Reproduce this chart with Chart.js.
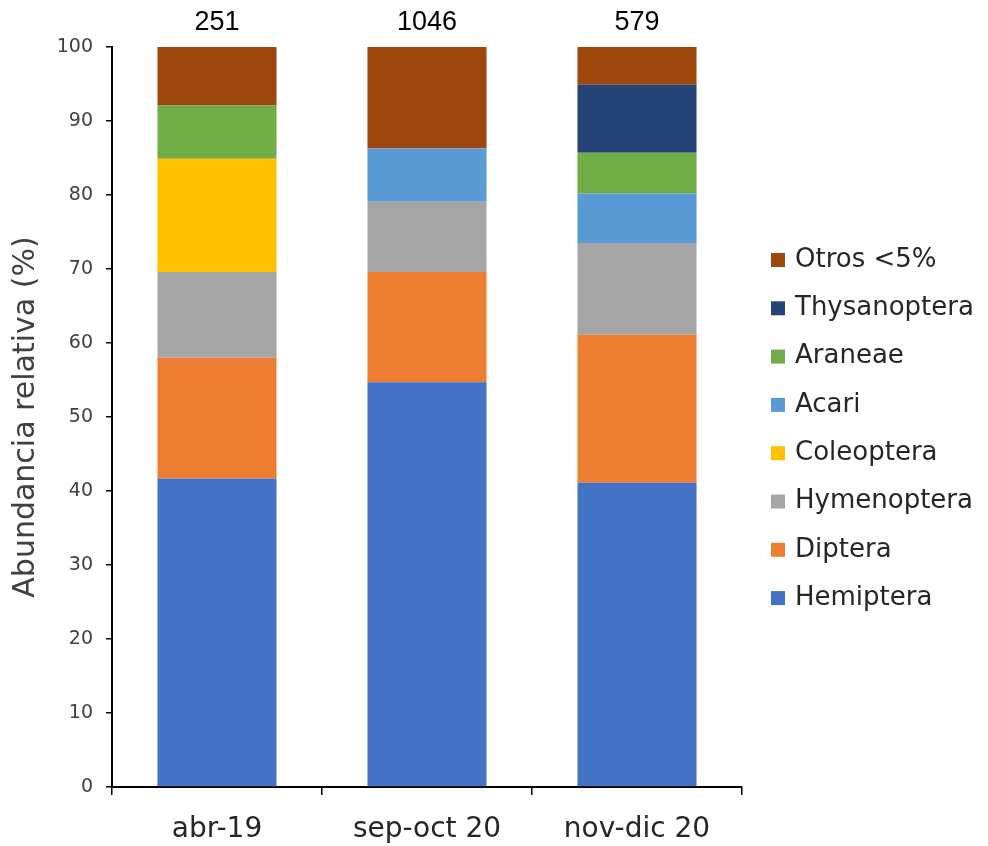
<!DOCTYPE html>
<html lang="es">
<head>
<meta charset="utf-8">
<title>Abundancia relativa por orden</title>
<script src="https://cdn.jsdelivr.net/npm/chart.js@4.4.1/dist/chart.umd.min.js"></script>
<style>
  html, body { margin: 0; padding: 0; background: #ffffff; }
  #wrap { position: relative; width: 988px; height: 846px; }
</style>
</head>
<body>
<div id="wrap"><canvas id="chart"></canvas></div>
<script>
// Sampling periods
const periods = ['abr-19', 'sep-oct 20', 'nov-dic 20'];
// Number of individuals per period
const totals = [251, 1046, 579];

// Relative abundance (%) of each order, stacked bottom to top
const hemiptera    = [41.7, 54.7, 41.1];
const diptera      = [16.3, 14.9, 20.0];
const hymenoptera  = [11.6,  9.5, 12.4];
const coleoptera   = [15.3,  0.0,  0.0];
const acari        = [ 0.0,  7.2,  6.7];
const araneae      = [ 7.2,  0.0,  5.5];
const thysanoptera = [ 0.0,  0.0,  9.2];
const otros        = [ 7.9, 13.7,  5.1];

const yTicks = { min: 0, max: 100, step: 10 };

const FONT = '"DejaVu Sans", "Liberation Sans", sans-serif';

const series = [
  { label: 'Hemiptera',    data: hemiptera,    color: '#4472C4' },
  { label: 'Diptera',      data: diptera,      color: '#ED7D31' },
  { label: 'Hymenoptera',  data: hymenoptera,  color: '#A5A5A5' },
  { label: 'Coleoptera',   data: coleoptera,   color: '#FFC000' },
  { label: 'Acari',        data: acari,        color: '#5B9BD5' },
  { label: 'Araneae',      data: araneae,      color: '#70AD47' },
  { label: 'Thysanoptera', data: thysanoptera, color: '#264478' },
  { label: 'Otros <5%',    data: otros,        color: '#9E480E' }
];

// Sample size written above each stacked column
const totalsPlugin = {
  id: 'totals',
  afterDatasetsDraw(chart) {
    const { ctx, scales: { x, y } } = chart;
    ctx.save();
    ctx.font = '27px "Liberation Sans", Arial, sans-serif';
    ctx.fillStyle = '#000000';
    ctx.textAlign = 'center';
    ctx.textBaseline = 'middle';
    const top = y.getPixelForValue(yTicks.max);
    totals.forEach((n, i) => {
      ctx.fillText(String(n), x.getPixelForValue(i), top - 24);
    });
    ctx.restore();
  }
};

// Legend on the right, listed from the top segment down
const sideLegend = {
  id: 'sideLegend',
  afterDraw(chart) {
    const { ctx } = chart;
    const o = chart.options.plugins.sideLegend;
    const items = chart.data.datasets.slice().reverse();
    ctx.save();
    ctx.font = o.fontSize + 'px ' + FONT;
    ctx.textBaseline = 'middle';
    ctx.textAlign = 'left';
    items.forEach((ds, k) => {
      const cy = o.top + k * o.spacing;
      ctx.fillStyle = ds.backgroundColor;
      ctx.fillRect(o.left, cy - o.box / 2, o.box, o.box);
      ctx.fillStyle = '#262626';
      ctx.fillText(ds.label, o.left + o.box + o.gap, cy);
    });
    ctx.restore();
  }
};

new Chart(document.getElementById('chart'), {
  type: 'bar',
  data: {
    labels: periods,
    datasets: series.map(s => ({
      label: s.label,
      data: s.data,
      backgroundColor: s.color,
      borderWidth: 0,
      barPercentage: 0.567,
      categoryPercentage: 1.0
    }))
  },
  options: {
    responsive: true,
    maintainAspectRatio: false,
    devicePixelRatio: 1,
    animation: false,
    layout: { padding: { top: 47, right: 246, bottom: 0, left: 0 } },
    plugins: {
      legend: { display: false },
      tooltip: { enabled: false },
      sideLegend: { left: 771, top: 260, spacing: 48.3, box: 14, gap: 10, fontSize: 26 }
    },
    scales: {
      x: {
        stacked: true,
        offset: true,
        afterFit(scale) { scale.height = 59; },
        grid: {
          offset: true,
          drawOnChartArea: false,
          drawTicks: true,
          tickLength: 8,
          tickColor: '#000000',
          lineWidth: 1.5
        },
        border: { display: true, color: '#000000', width: 2 },
        ticks: {
          color: '#262626',
          padding: 18,
          font: { family: FONT, size: 28 }
        }
      },
      y: {
        stacked: true,
        min: yTicks.min,
        max: yTicks.max,
        afterFit(scale) { scale.width = 112; },
        grid: {
          drawOnChartArea: false,
          drawTicks: true,
          tickLength: 6,
          tickColor: '#000000',
          lineWidth: 1.5
        },
        border: { display: true, color: '#000000', width: 2 },
        ticks: {
          stepSize: yTicks.step,
          color: '#404040',
          padding: 13,
          font: { family: FONT, size: 19 }
        },
        title: {
          display: true,
          text: 'Abundancia relativa (%)',
          color: '#404040',
          padding: { top: 8, bottom: 0 },
          font: { family: FONT, size: 30 }
        }
      }
    }
  },
  plugins: [totalsPlugin, sideLegend]
});
</script>
</body>
</html>
